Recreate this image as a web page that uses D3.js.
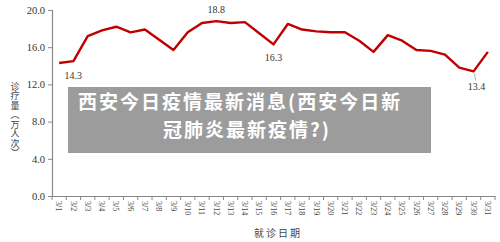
<!DOCTYPE html>
<html>
<head>
<meta charset="utf-8">
<script src="https://cdn.jsdelivr.net/npm/d3@7"></script>
<style>
  body { margin: 0; background: #fff; }
  svg { display: block; }
</style>
</head>
<body>
<div id="chart"></div>
<script>
// daily visits (10k person-times), March
const dates = ["3/1","3/2","3/3","3/4","3/5","3/6","3/7","3/8","3/9","3/10",
  "3/11","3/12","3/13","3/14","3/15","3/16","3/17","3/18","3/19","3/20",
  "3/21","3/22","3/23","3/24","3/25","3/26","3/27","3/28","3/29","3/30","3/31"];
const visits = [14.3, 14.5, 17.2, 17.8, 18.2, 17.6, 17.9, 16.8, 15.7, 17.6,
  18.6, 18.8, 18.6, 18.7, 17.5, 16.3, 18.5, 17.9, 17.7, 17.6,
  17.6, 16.7, 15.5, 17.3, 16.7, 15.7, 15.6, 15.2, 13.8, 13.4, 15.5];
const yTicks = [0, 4, 8, 12, 16, 20];
const callouts = [
  { date: "3/1", label: "14.3", dx: 14, dy: 16 },
  { date: "3/12", label: "18.8", dx: 0, dy: -8 },
  { date: "3/16", label: "16.3", dx: 0, dy: 17 },
  { date: "3/30", label: "13.4", dx: 3, dy: 19, leader: true }
];
const yTitle = "诊疗量（万人次）";
const xTitle = "就诊日期";
const overlayLines = ["西安今日疫情最新消息(西安今日新", "冠肺炎最新疫情?)"];

const w = 500, h = 242;
const serif = "'Liberation Serif', 'DejaVu Serif', serif";
const cjk = "'Noto Sans CJK SC', sans-serif";

const svg = d3.select("#chart").append("svg")
  .attr("width", w).attr("height", h);

const x = d3.scaleBand().domain(dates).range([52, 495]);
const y = d3.scaleLinear().domain([0, 20]).range([196, 10]);

// y axis
const yAxis = svg.append("g")
  .attr("transform", "translate(52,0)")
  .call(d3.axisLeft(y).tickValues(yTicks).tickFormat(d3.format(".1f")).tickSize(4).tickPadding(3));
yAxis.select(".domain").attr("stroke", "#888").attr("stroke-width", 1.2);
yAxis.selectAll(".tick line").attr("stroke", "#888");
yAxis.selectAll("text").attr("font-family", serif).attr("font-size", 10.5).attr("fill", "#333");

// x axis
const xAxis = svg.append("g")
  .attr("transform", "translate(0,196)")
  .call(d3.axisBottom(x).tickSize(0));
xAxis.select(".domain").attr("stroke", "#888").attr("stroke-width", 1.2);
xAxis.selectAll(".tick text")
  .attr("font-family", serif).attr("font-size", 8).attr("fill", "#444")
  .attr("transform", "rotate(90)")
  .attr("x", 5).attr("y", 0).attr("dy", "0.35em")
  .attr("text-anchor", "start");
// boundary ticks
svg.append("g").selectAll("line")
  .data(dates.concat(["end"]))
  .join("line")
  .attr("x1", (d, i) => x.range()[0] + i * x.step())
  .attr("x2", (d, i) => x.range()[0] + i * x.step())
  .attr("y1", 196).attr("y2", 200)
  .attr("stroke", "#888");

// line
const line = d3.line()
  .x((d, i) => x(dates[i]) + x.bandwidth() / 2)
  .y(d => y(d));
svg.append("path")
  .datum(visits)
  .attr("d", line)
  .attr("fill", "none")
  .attr("stroke", "#c00000")
  .attr("stroke-width", 2.4)
  .attr("stroke-linejoin", "round");

// callout labels
callouts.forEach(c => {
  const i = dates.indexOf(c.date);
  const cx = x(c.date) + x.bandwidth() / 2, cy = y(visits[i]);
  if (c.leader) {
    svg.append("line")
      .attr("x1", cx + 1).attr("y1", cy + 2)
      .attr("x2", cx + 2).attr("y2", cy + 9)
      .attr("stroke", "#999").attr("stroke-width", 0.8);
  }
  svg.append("text")
    .attr("x", cx + c.dx).attr("y", cy + c.dy)
    .attr("text-anchor", "middle")
    .attr("font-family", serif).attr("font-size", 10).attr("fill", "#333")
    .text(c.label);
});

// y title, vertical writing
svg.append("text")
  .attr("x", 15).attr("y", 82)
  .style("writing-mode", "vertical-rl")
  .style("text-orientation", "upright")
  .attr("font-family", cjk).attr("font-size", 9).attr("fill", "#444")
  .attr("letter-spacing", 0.5)
  .text(yTitle);

// x title
svg.append("text")
  .attr("x", 278).attr("y", 237)
  .attr("text-anchor", "middle")
  .attr("font-family", cjk).attr("font-size", 10).attr("fill", "#444")
  .attr("letter-spacing", 2)
  .text(xTitle);

// overlay banner
svg.append("rect")
  .attr("x", 68).attr("y", 87).attr("width", 363).attr("height", 66)
  .attr("fill", "#9c9c9c");
svg.append("text")
  .attr("x", 78).attr("y", 109)
  .attr("font-family", cjk).attr("font-weight", 700).attr("font-size", 19)
  .attr("letter-spacing", 2).attr("fill", "#fff")
  .text(overlayLines[0]);
svg.append("text")
  .attr("x", 163).attr("y", 137)
  .attr("font-family", cjk).attr("font-weight", 700).attr("font-size", 19)
  .attr("letter-spacing", 2).attr("fill", "#fff")
  .text(overlayLines[1]);
</script>
</body>
</html>
